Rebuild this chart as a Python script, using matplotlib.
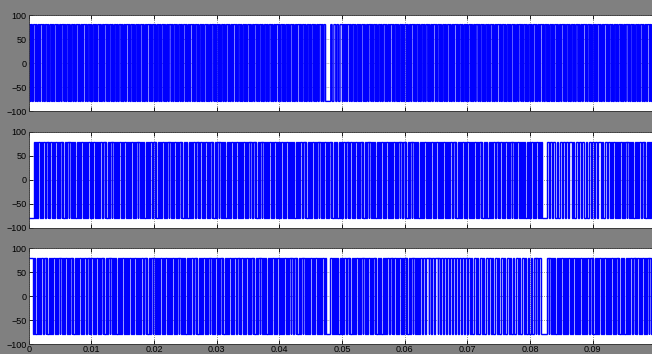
import numpy as np
import matplotlib.pyplot as plt

plt.rcParams['font.family'] = ['Liberation Sans', 'DejaVu Sans']

# switched signal levels and carrier period (s)
v_high = 80
v_low = -80
pulse_period = 3.8e-4
# repeating duty pattern (fraction of a period spent at +80)
duty_pattern = [0.62, 0.5, 0.74, 0.47, 0.58, 0.8, 0.52, 0.66, 0.45]

# switching segments per trace: (start, end, period scale)
seg_a = [(0.0, 0.0474, 1.0), (0.0482, 0.0505, 1.3), (0.0505, 0.1, 1.0)]
seg_b = [(0.0008, 0.0819, 1.0), (0.0827, 0.0925, 1.35), (0.0925, 0.1, 1.0)]
seg_c = [(0.0005, 0.0474, 1.0), (0.0481, 0.0625, 1.0), (0.0625, 0.0817, 1.25),
         (0.0827, 0.1, 1.0)]

# intervals where the output is held at one level: (start, end, level)
hold_a = [(0.0474, 0.0482, v_low)]
hold_b = [(0.0, 0.0008, v_low), (0.0819, 0.0827, v_low)]
hold_c = [(0.0, 0.0005, v_high), (0.0474, 0.0481, v_low), (0.0817, 0.0827, v_low)]

x_ticks = [0, 0.01, 0.02, 0.03, 0.04, 0.05, 0.06, 0.07, 0.08, 0.09, 0.1]
x_ticklabels = ['0', '0.01', '0.02', '0.03', '0.04', '0.05', '0.06', '0.07', '0.08', '0.09', '']
y_ticks = [-100, -50, 0, 50, 100]


def build_trace(segs, holds):
    pieces = [(s, e, p, None) for s, e, p in segs] + [(s, e, None, lv) for s, e, lv in holds]
    pieces.sort(key=lambda q: q[0])
    t, v = [], []
    k = 0
    for s, e, p, lv in pieces:
        if lv is not None:
            t += [s, e]
            v += [lv, lv]
            continue
        per = pulse_period * p
        for t0 in np.arange(s, e, per):
            d = duty_pattern[k % len(duty_pattern)]
            k += 1
            m = min(t0 + d * per, e)
            n = min(t0 + per, e)
            t += [t0, m, m, n]
            v += [v_high, v_high, v_low, v_low]
    return t, v


traces = [build_trace(seg_a, hold_a), build_trace(seg_b, hold_b), build_trace(seg_c, hold_c)]

W, H = 652, 354
fig = plt.figure(figsize=(W / 100, H / 100), dpi=100, facecolor='#808080')
tops = [15, 132, 248]
ax_h = 96
left_px, right_px = 28.7, 655.4

for i, (t, v) in enumerate(traces):
    ax = fig.add_axes([left_px / W, 1 - (tops[i] + ax_h) / H,
                       (right_px - left_px) / W, ax_h / H])
    ax.set_facecolor('white')
    ax.plot(t, v, color='#0000ff', lw=1.0, solid_joinstyle='miter')
    ax.set_xlim(0, 0.1)
    ax.set_ylim(-100, 100)
    ax.set_yticks(y_ticks)
    ax.set_xticks(x_ticks)
    ax.grid(True, linestyle=':', color='#707070', lw=0.6)
    ax.set_axisbelow(True)
    ax.tick_params(direction='in', length=3, width=0.6, top=True, right=True,
                   labelsize=6.5, pad=1.5, colors='black')
    ax.tick_params(axis='x', pad=0.8)
    if i == 2:
        ax.set_xticklabels(x_ticklabels)
    else:
        ax.set_xticklabels([])
    for sp in ax.spines.values():
        sp.set_color('#303030')
        sp.set_linewidth(0.6)

fig.savefig('out.png', dpi=100, facecolor=fig.get_facecolor())
